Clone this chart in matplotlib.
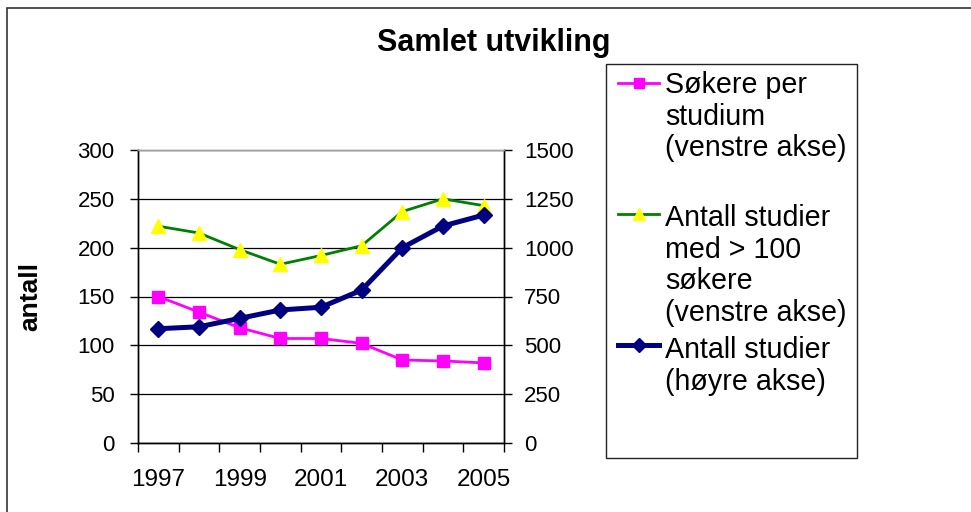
import numpy as np
import matplotlib
matplotlib.use('Agg')
from matplotlib import pyplot as plt
from matplotlib.lines import Line2D
from matplotlib.patches import Rectangle

plt.rcParams['font.family'] = ['Liberation Sans', 'DejaVu Sans']

years = ['1997', '1998', '1999', '2000', '2001', '2002', '2003', '2004', '2005']
sokere_per_studium = [150, 134, 118, 107, 107, 102, 85, 84, 82]
studier_over_100 = [222, 215, 198, 183, 192, 202, 237, 250, 243]
antall_studier = [585, 595, 638, 681, 695, 783, 1000, 1111, 1167]

labels = ['Søkere per\nstudium\n(venstre akse)',
          'Antall studier\nmed > 100\nsøkere\n(venstre akse)',
          'Antall studier\n(høyre akse)']
left_ticks = [0, 50, 100, 150, 200, 250, 300]
right_ticks = [0, 250, 500, 750, 1000, 1250, 1500]

PINK = '#ff00ff'
GREEN = '#008000'
YELLOW = '#ffff00'
NAVY = '#000080'

W, H = 971, 512
fig = plt.figure(figsize=(W/100, H/100), dpi=100)
ax = fig.add_axes([138/W, 1 - 443/H, 366/W, 293/H])
ax2 = ax.twinx()

x = np.arange(len(years))
styles = [
    dict(color=PINK, lw=2.0, marker='s', ms=8, mfc=PINK, mec=PINK),
    dict(color=GREEN, lw=2.0, marker='^', ms=10.5, mfc=YELLOW, mec=YELLOW),
    dict(color=NAVY, lw=3.6, marker='D', ms=8.5, mfc=NAVY, mec=NAVY),
]
ax.plot(x, sokere_per_studium, zorder=3, **styles[0])
ax.plot(x, studier_over_100, zorder=3, **styles[1])
ax2.plot(x, antall_studier, zorder=3, **styles[2])

ax.set_xlim(-0.5, len(years) - 0.5)
ax.set_ylim(0, 300)
ax2.set_ylim(0, 1500)
ax.set_yticks(left_ticks)
ax.set_yticklabels([str(t) for t in left_ticks])
ax2.set_yticks(right_ticks)
ax2.set_yticklabels([str(t) for t in right_ticks])

# ticks on the category boundaries, labels on every other year
ax.set_xticks(np.arange(-0.5, len(years)))
ax.set_xticklabels([])
ax.set_xticks(x[::2], minor=True)
ax.set_xticklabels(years[::2], minor=True)
ax.tick_params(axis='x', which='minor', length=0, pad=19, labelsize=17.5)
ax.tick_params(axis='x', which='major', length=6.5, width=1, direction='out')
ax.tick_params(axis='y', length=5.8, width=1, direction='out', labelsize=16, pad=11)
ax2.tick_params(axis='y', length=5.8, width=1, direction='out', labelsize=16, pad=8.5)

ax.grid(axis='y', color='black', lw=0.9)
ax.set_axisbelow(True)
for a in (ax, ax2):
    a.spines['top'].set_color('#a0a0a0')
    for side in ('left', 'right', 'bottom'):
        a.spines[side].set_color('black')
    for s in a.spines.values():
        s.set_linewidth(1.0)

fig.text(30/W, 1 - 296.5/H, 'antall', fontsize=19, fontweight='bold',
         rotation=90, ha='center', va='center')

fig.text(494/W, 1 - 51/H, 'Samlet utvikling', fontsize=22, fontweight='bold',
         ha='center', va='baseline')

# outer chart border, runs off the right and bottom edges
fig.patches.append(Rectangle((7/W, -0.1), 1.2, 1 - 8/H + 0.1,
                             transform=fig.transFigure, fill=False,
                             ec='#333333', lw=1.2))

# legend box drawn by hand, Excel style
fig.patches.append(Rectangle((606/W, 1 - 458/H), 251/W, 394/H,
                             transform=fig.transFigure, fill=False,
                             ec='#222222', lw=1.0))
handle_y = [83, 214, 345]
text_top = [71, 204, 336]
for st, lab, hy, ty in zip(styles, labels, handle_y, text_top):
    yf = 1 - hy/H
    fig.add_artist(Line2D([618/W, 659/W], [yf, yf], transform=fig.transFigure,
                          color=st['color'], lw=st['lw']))
    fig.add_artist(Line2D([638.5/W], [yf], transform=fig.transFigure, ls='none',
                          marker=st['marker'], ms=st['ms'] * 0.85,
                          mfc=st['mfc'], mec=st['mec']))
    fig.text(665/W, 1 - ty/H, lab, fontsize=20.6, ha='left', va='top',
             linespacing=1.17)

fig.savefig('out.png', dpi=100)
